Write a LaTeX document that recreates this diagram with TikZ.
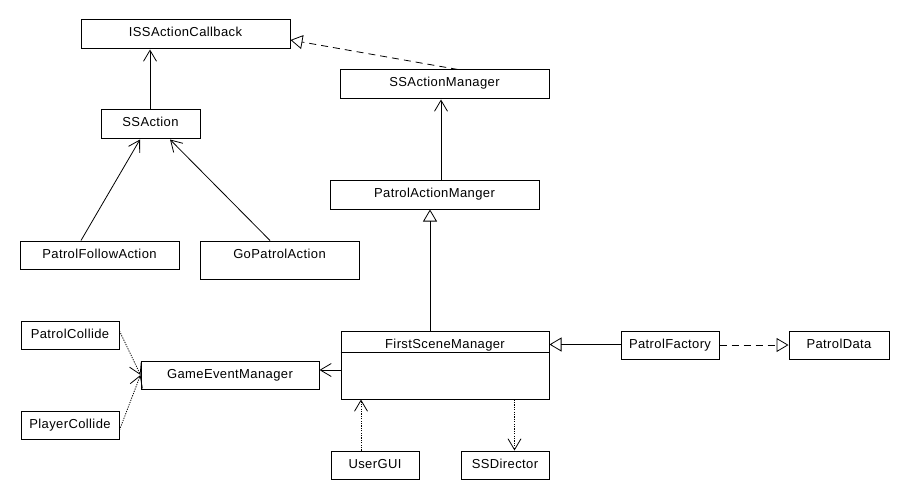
\documentclass[tikz,border=0pt]{standalone}
\usepackage{fontspec}
\setmainfont[LetterSpace=3]{Liberation Sans}
\usetikzlibrary{arrows.meta,fit}
\begin{document}
\begin{tikzpicture}[x=1pt,y=-1pt,
  box/.style={draw, line width=1pt, inner sep=0pt, fit={#1}},
  lbl/.style={font=\fontsize{13}{15}\selectfont, inner sep=0pt, anchor=base},
  con/.style={line width=0.8pt},
  assoc/.style={con,-{Straight Barb[length=11pt,width=13pt,line width=0.8pt]}},
  inherit/.style={con,-{Triangle[open,length=12pt,width=14pt,line width=0.8pt]}},
  realize/.style={inherit,dash pattern=on 7pt off 5pt},
  depend/.style={assoc,dash pattern=on 1.2pt off 1.2pt}]
\useasboundingbox[fill=white] (0,0) rectangle (910,500);

\newcommand\umlbox[6]{%
  \node[box={(#2,#3) (#4,#5)}] (#1) {};
  \node[lbl] (#1-t) at ([yshift=-17.5pt]#1.north) {#6};}

\umlbox{iss}{81}{20}{290}{49}{ISSActionCallback}
\umlbox{ssam}{340}{70}{549}{99}{SSActionManager}
\umlbox{ssa}{101}{110}{200}{139}{SSAction}
\umlbox{pam}{330}{180}{539}{209}{PatrolActionManger}
\umlbox{pfa}{20}{241}{179}{269}{PatrolFollowAction}
\umlbox{gpa}{200}{241}{359}{279}{GoPatrolAction}
\umlbox{pc}{21}{321}{119}{349}{PatrolCollide}
\umlbox{plc}{21}{411}{119}{439}{PlayerCollide}
\umlbox{gem}{141}{361}{319}{389}{GameEventManager}
\umlbox{fsm}{341}{331}{549}{399}{FirstSceneManager}
\umlbox{gui}{331}{451}{419}{479}{UserGUI}
\umlbox{ssd}{461}{451}{549}{479}{SSDirector}
\umlbox{pf}{621}{331}{719}{359}{PatrolFactory}
\umlbox{pd}{789}{331}{889}{359}{PatrolData}

\draw[line width=1pt] ([yshift=-22pt]fsm.north west) -- ([yshift=-22pt]fsm.north east);

% connectors
\draw[assoc] ([xshift=-0.5pt]ssa.north) -- ([xshift=-0.5pt]ssa.north |- iss.south);
\draw[realize] ([xshift=13.5pt]ssam.north) -- ([yshift=-5.5pt]iss.east);
\draw[assoc] ([xshift=-3.5pt]pam.north -| ssam.south) -- ([xshift=-3.5pt]ssam.south);
\coordinate (fsmtop) at ([xshift=-15pt]fsm.north);
\draw[inherit] (fsmtop) -- (fsmtop |- pam.south);
\draw[assoc] ([xshift=-18.5pt]pfa.north) -- ([xshift=-10.5pt]ssa.south);
\draw[assoc] ([xshift=-9.5pt]gpa.north) -- ([xshift=19.5pt]ssa.south);
\draw[depend] ([yshift=4pt]pc.east) -- (gem.west);
\draw[depend] ([yshift=-5pt]plc.east) -- (gem.west);
\draw[assoc] ([yshift=-5pt]fsm.west) -- ([yshift=-5pt]fsm.west -| gem.east);
\draw[inherit] ([yshift=-14pt]pf.north west) -- ([yshift=-14pt]pf.north west -| fsm.east);
\draw[realize] (pf.east) -- (pd.west);
\draw[depend] ([xshift=-14pt]gui.north) -- ([xshift=-14pt]gui.north |- fsm.south);
\draw[depend] ([xshift=-35pt]fsm.south east) -- ([xshift=-35pt]fsm.south east |- ssd.north);
\end{tikzpicture}
\end{document}
